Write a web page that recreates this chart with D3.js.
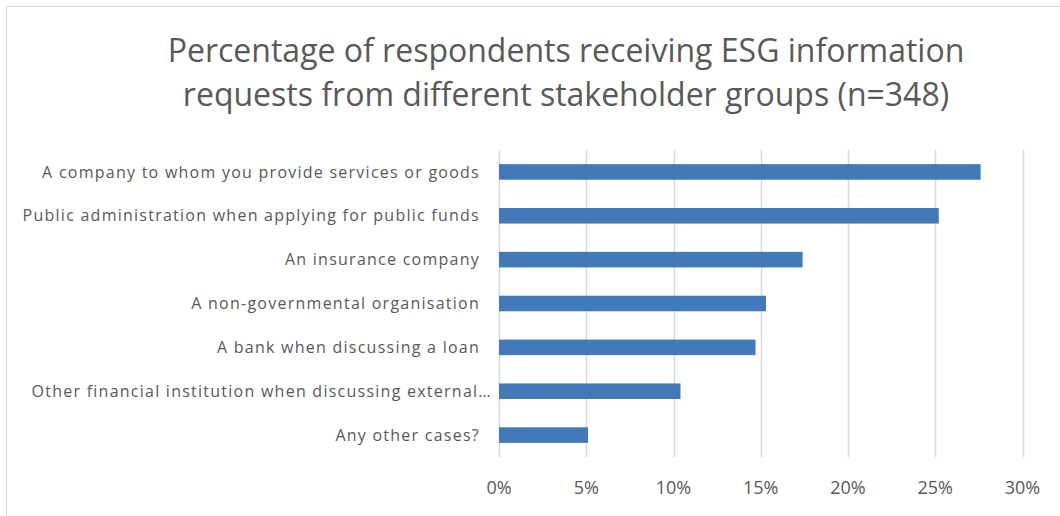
<!DOCTYPE html>
<meta charset="utf-8">
<script src="https://d3js.org/d3.v7.min.js"></script>
<style>
  body { margin: 0; background: #fff; }
</style>
<div id="my_dataviz"></div>
<script>

// data
var categories = [
  "A company to whom you provide services or goods",
  "Public administration when applying for public funds",
  "An insurance company",
  "A non-governmental organisation",
  "A bank when discussing a loan",
  "Other financial institution when discussing external…",
  "Any other cases?"
]
var values = [27.6, 25.2, 17.4, 15.3, 14.7, 10.4, 5.1]
var tickValues = [0, 5, 10, 15, 20, 25, 30]
var titleLines = [
  "Percentage of respondents receiving ESG information",
  "requests from different stakeholder groups (n=348)"
]

var W = 1060, H = 516
var textColor = "#595959"
var gridColor = "#d9d9d9"
var barColor = "#4279b9"

var svg = d3.select("#my_dataviz")
  .append("svg")
    .attr("width", W)
    .attr("height", H)
    .style("font-family", "'Open Sans', sans-serif")

// chart border (only top/left are visible in the picture)
svg.append("rect")
  .attr("x", 6.5).attr("y", 6.5)
  .attr("width", W + 20).attr("height", H + 20)
  .attr("fill", "none")
  .attr("stroke", gridColor)
  .attr("stroke-width", 1)

// title
svg.selectAll("titles")
  .data(titleLines)
  .enter()
  .append("text")
    .attr("x", 566)
    .attr("y", function(d, i){ return 62 + i * 44 })
    .attr("text-anchor", "middle")
    .style("font-size", "32px")
    .attr("fill", textColor)
    .text(function(d){ return d })

// scales
var x = d3.scaleLinear()
  .domain([0, 30])
  .range([499, 1022.5])

var y = d3.scaleBand()
  .domain(categories)
  .range([150, 457])
  .paddingInner(0.645)
  .paddingOuter(0.3225)

// vertical gridlines
svg.selectAll("grid")
  .data(tickValues)
  .enter()
  .append("line")
    .attr("x1", function(d){ return Math.round(x(d)) + 0.5 })
    .attr("x2", function(d){ return Math.round(x(d)) + 0.5 })
    .attr("y1", 150)
    .attr("y2", 457)
    .attr("stroke", gridColor)
    .attr("stroke-width", 1.5)

// bars
svg.selectAll("bars")
  .data(values)
  .enter()
  .append("rect")
    .attr("x", x(0))
    .attr("y", function(d, i){ return y(categories[i]) })
    .attr("width", function(d){ return x(d) - x(0) })
    .attr("height", y.bandwidth())
    .attr("fill", barColor)

// category labels (the truncated one runs a bit past the others, as in Excel)
svg.selectAll("labels")
  .data(categories)
  .enter()
  .append("text")
    .attr("x", function(d){ return d.slice(-1) === "…" ? 492 : 480 })
    .attr("y", function(d){ return y(d) + y.bandwidth() / 2 })
    .attr("dy", "0.35em")
    .attr("text-anchor", "end")
    .style("font-size", "16px")
    .style("letter-spacing", "1.25px")
    .attr("fill", textColor)
    .text(function(d){ return d })

// x tick labels
svg.selectAll("ticks")
  .data(tickValues)
  .enter()
  .append("text")
    .attr("x", function(d){ return x(d) })
    .attr("y", 494)
    .attr("text-anchor", "middle")
    .style("font-size", "18px")
    .attr("fill", textColor)
    .text(function(d){ return d + "%" })

</script>
